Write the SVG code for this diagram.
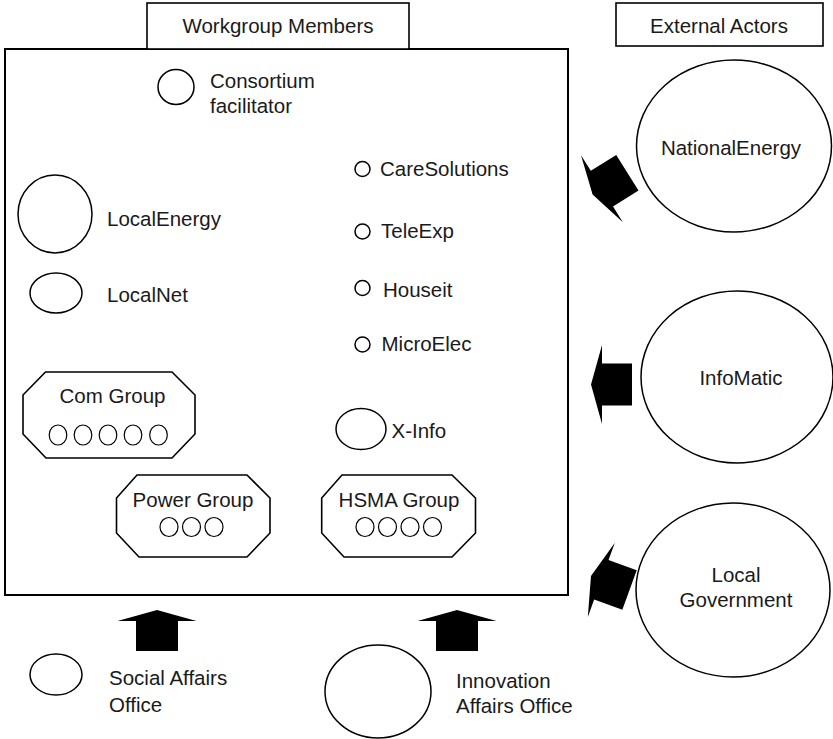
<svg xmlns="http://www.w3.org/2000/svg" xmlns:xlink="http://www.w3.org/1999/xlink" width="833" height="739" viewBox="0 0 833 739">
<style>
text{font-family:"Liberation Sans",Arial,sans-serif;font-size:20.5px;fill:#1a1a1a}
.c{text-anchor:middle}
.box{fill:#fff;stroke:#000;stroke-width:1.6}
.main{fill:#fff;stroke:#000;stroke-width:2}
.oct{fill:#fff;stroke:#000;stroke-width:1.6}
.el{fill:#fff;stroke:#000;stroke-width:1.5}
.sm{fill:#fff;stroke:#000;stroke-width:1.2}
.arr{fill:#000;stroke:none}
</style>
<defs>
<path id="arrow" d="M0,0 L11,-39.5 L11,-21 L41,-21 L41,21 L11,21 L11,39.5 Z"/>
</defs>
<rect width="833" height="739" fill="#fff"/>
<g id="workgroup">
<rect class="main" x="5" y="49" width="563" height="546"/>
<rect class="box" x="147" y="3" width="262" height="46"/>
<text class="c" x="278" y="33">Workgroup Members</text>
</g>
<g id="external-actors-label">
<rect class="box" x="616" y="3" width="207" height="43"/>
<text class="c" x="719" y="33">External Actors</text>
</g>
<g id="consortium">
<ellipse class="el" cx="176" cy="87" rx="18" ry="17.5"/>
<text x="210" y="88">Consortium</text>
<text x="210" y="113">facilitator</text>
</g>
<g id="localenergy">
<ellipse class="el" cx="55" cy="214" rx="37" ry="39"/>
<text x="107" y="226">LocalEnergy</text>
</g>
<g id="localnet">
<ellipse class="el" cx="56" cy="293" rx="26" ry="20"/>
<text x="107" y="302">LocalNet</text>
</g>
<g id="caresolutions">
<circle class="el" cx="362.5" cy="169" r="7.5"/>
<text x="380" y="176">CareSolutions</text>
</g>
<g id="teleexp">
<circle class="el" cx="362.5" cy="231.5" r="7.5"/>
<text x="381" y="238">TeleExp</text>
</g>
<g id="houseit">
<circle class="el" cx="362.5" cy="288" r="7.5"/>
<text x="383" y="296.5">Houseit</text>
</g>
<g id="microelec">
<circle class="el" cx="362.5" cy="344.5" r="7.5"/>
<text x="381.5" y="351">MicroElec</text>
</g>
<g id="xinfo">
<ellipse class="el" cx="361" cy="429" rx="25" ry="20.5"/>
<text x="391.5" y="438">X-Info</text>
</g>
<g id="comgroup">
<path class="oct" d="M45.5,372 L172,372 L195,395 L195,434 L172,458 L46,458 L23,434 L23,395 Z"/>
<text class="c" x="112.5" y="403">Com Group</text>
<ellipse class="sm" cx="58" cy="435" rx="8.8" ry="10"/>
<ellipse class="sm" cx="83" cy="435" rx="8.8" ry="10"/>
<ellipse class="sm" cx="108" cy="435" rx="8.8" ry="10"/>
<ellipse class="sm" cx="133" cy="435" rx="8.8" ry="10"/>
<ellipse class="sm" cx="158.5" cy="435" rx="8.8" ry="10"/>
</g>
<g id="powergroup">
<path class="oct" d="M137,475 L247,475 L270,498 L270,533 L247,557 L139,557 L116.5,533 L116.5,498 Z"/>
<text class="c" x="193" y="506.5">Power Group</text>
<ellipse class="sm" cx="169" cy="527" rx="9" ry="9.5"/>
<ellipse class="sm" cx="191.5" cy="527" rx="9" ry="9.5"/>
<ellipse class="sm" cx="214" cy="527" rx="9" ry="9.5"/>
</g>
<g id="hsmagroup">
<path class="oct" d="M342,475 L452,475 L475.5,498 L475.5,533 L452,557 L344,557 L321.7,533 L321.7,498 Z"/>
<text class="c" x="399" y="506.5">HSMA Group</text>
<ellipse class="sm" cx="365" cy="527" rx="9" ry="9.5"/>
<ellipse class="sm" cx="387.5" cy="527" rx="9" ry="9.5"/>
<ellipse class="sm" cx="410" cy="527" rx="9" ry="9.5"/>
<ellipse class="sm" cx="432.5" cy="527" rx="9" ry="9.5"/>
</g>
<g id="nationalenergy">
<ellipse class="el" cx="734" cy="146" rx="97.5" ry="86"/>
<text class="c" x="731" y="155">NationalEnergy</text>
</g>
<g id="infomatic">
<ellipse class="el" cx="737" cy="377" rx="96" ry="86"/>
<text class="c" x="741" y="385">InfoMatic</text>
</g>
<g id="localgovernment">
<ellipse class="el" cx="733" cy="590" rx="97" ry="87"/>
<text class="c" x="736" y="582">Local</text>
<text class="c" x="736" y="607">Government</text>
</g>
<g id="socialaffairs">
<ellipse class="el" cx="56" cy="674.5" rx="26" ry="20.5"/>
<text x="109" y="685">Social Affairs</text>
<text x="109" y="711.5">Office</text>
</g>
<g id="innovationaffairs">
<ellipse class="el" cx="378" cy="691.5" rx="53" ry="46.5"/>
<text x="456" y="688">Innovation</text>
<text x="456" y="713">Affairs Office</text>
</g>
<g id="connectors">
<use xlink:href="#arrow" class="arr" transform="translate(592.6,194.5) rotate(-32)"/>
<use xlink:href="#arrow" class="arr" transform="translate(591,384.5)"/>
<use xlink:href="#arrow" class="arr" transform="translate(591,576) rotate(20)"/>
<use xlink:href="#arrow" class="arr" transform="translate(157,610) rotate(90)"/>
<use xlink:href="#arrow" class="arr" transform="translate(457,610) rotate(90)"/>
</g>
</svg>
